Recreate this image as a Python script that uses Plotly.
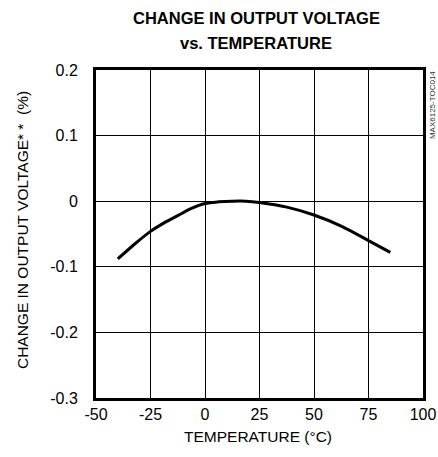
import plotly.graph_objects as go

temperature_c = [-40, -32.5, -25, -18.75, -12.5, -6.25, 0, 6.25, 12.5, 18.75, 25, 37.5, 50, 62.5, 75, 85]
change_pct = [-0.088, -0.066, -0.046, -0.033, -0.022, -0.011, -0.0035, -0.001, 0.0, 0.0, -0.002,
              -0.009, -0.021, -0.038, -0.060, -0.078]

x_tick_vals = [-50, -25, 0, 25, 50, 75, 100]
x_tick_text = ["-50", "-25", "0", "25", "50", "75", "100"]
y_tick_vals = [-0.3, -0.2, -0.1, 0, 0.1, 0.2]
y_tick_text = ["-0.3", "-0.2", "-0.1", "0", "0.1", "0.2"]

title_lines = ["CHANGE IN OUTPUT VOLTAGE", "vs. TEMPERATURE"]
x_title = "TEMPERATURE (°C)"
y_title = "CHANGE IN OUTPUT VOLTAGE*\u00a0*\u00a0\u00a0(%)"
part_label = "MAX6125-TOC014"

FONT = "Liberation Sans, Arial, sans-serif"

fig = go.Figure()
fig.add_trace(go.Scatter(
    x=temperature_c, y=change_pct, mode="lines",
    line=dict(color="black", width=3, shape="spline", smoothing=0.8),
    showlegend=False, hoverinfo="skip",
))

fig.update_layout(
    width=438, height=457,
    margin=dict(l=96, r=15, t=70, b=59),
    paper_bgcolor="white", plot_bgcolor="white",
    font=dict(family=FONT, size=16, color="black"),
    xaxis=dict(
        range=[-50, 100], tickvals=x_tick_vals, ticktext=x_tick_text,
        showgrid=True, gridcolor="black", gridwidth=1,
        showline=True, linecolor="black", linewidth=3, mirror=True,
        ticks="", zeroline=False, automargin=False,
        tickfont=dict(size=16),
    ),
    yaxis=dict(
        range=[-0.3, 0.2], tickvals=y_tick_vals, ticktext=y_tick_text,
        showgrid=True, gridcolor="black", gridwidth=1,
        showline=True, linecolor="black", linewidth=3, mirror=True,
        ticks="", zeroline=False, automargin=False, ticklabelstandoff=12,
        tickfont=dict(size=16),
    ),
)

# title lines
fig.add_annotation(text="<b>%s</b>" % title_lines[0], xref="paper", yref="paper",
                   x=0.49, y=1.1585, xanchor="center", yanchor="middle", showarrow=False,
                   font=dict(family=FONT, size=16.5, color="black"))
fig.add_annotation(text="<b>%s</b>" % title_lines[1], xref="paper", yref="paper",
                   x=0.49, y=1.0823, xanchor="center", yanchor="middle", showarrow=False,
                   font=dict(family=FONT, size=16.5, color="black"))
# axis titles
fig.add_annotation(text=x_title, xref="paper", yref="paper",
                   x=0.495, y=-0.1189, xanchor="center", yanchor="middle", showarrow=False,
                   font=dict(family=FONT, size=15.5, color="black"))
fig.add_annotation(text=y_title, xref="paper", yref="paper", textangle=-90,
                   x=-0.2263, y=0.512, xanchor="center", yanchor="middle", showarrow=False,
                   font=dict(family=FONT, size=15.5, color="black"))
fig.add_annotation(text=part_label, xref="paper", yref="paper", textangle=-90,
                   x=1.0275, y=0.893, xanchor="center", yanchor="middle", showarrow=False,
                   font=dict(family=FONT, size=8, color="#333333"))

fig.write_html(
    "out.html",
    config={"displayModeBar": False},
    post_script="document.body.style.margin='0';document.body.style.overflow='hidden';",
)
